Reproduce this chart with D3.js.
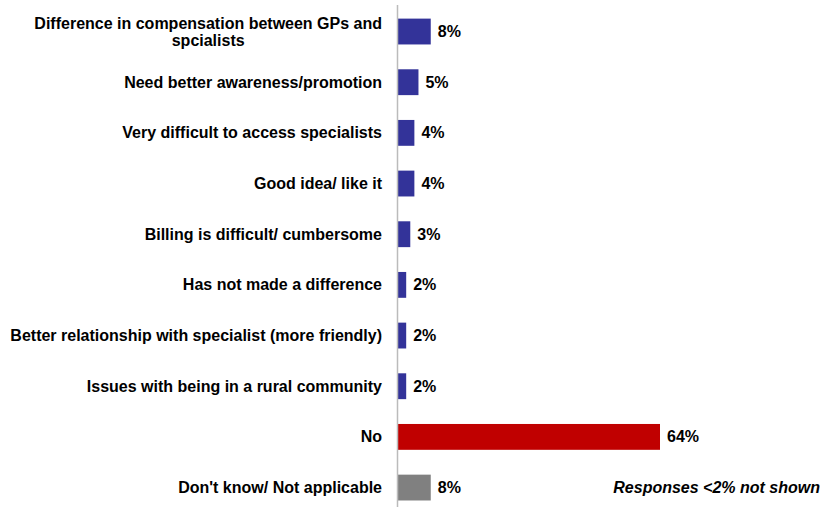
<!DOCTYPE html>
<html>
<head>
<meta charset="utf-8">
<script src="https://cdn.jsdelivr.net/npm/d3@7"></script>
<style>
  body { margin: 0; background: #fff; }
  svg { font-family: "Liberation Sans", Arial, sans-serif; }
</style>
</head>
<body>
<div id="vis"></div>
<script>
// Chart data
const categories = [
  ["Difference in compensation between GPs and", "spcialists"],
  ["Need better awareness/promotion"],
  ["Very difficult to access specialists"],
  ["Good idea/ like it"],
  ["Billing is difficult/ cumbersome"],
  ["Has not made a difference"],
  ["Better relationship with specialist (more friendly)"],
  ["Issues with being in a rural community"],
  ["No"],
  ["Don't know/ Not applicable"]
];
const values = [8, 5, 4, 4, 3, 2, 2, 2, 64, 8];
const barColors = ["#333399", "#333399", "#333399", "#333399", "#333399",
  "#333399", "#333399", "#333399", "#C00000", "#808080"];
const footnote = "Responses <2% not shown";

const svg = d3.select("#vis").append("svg")
  .attr("width", 828)
  .attr("height", 507);

const x0 = 398;
const xScale = d3.scaleLinear()
  .domain([0, 64])
  .range([x0, 660]);

const yScale = d3.scaleBand()
  .domain(d3.range(values.length))
  .range([6.2, 512.9])
  .paddingInner(0.49)
  .paddingOuter(0.245);

// Bars
svg.selectAll("rect.bar")
  .data(values)
  .join("rect")
  .attr("class", "bar")
  .attr("x", xScale(0))
  .attr("y", (d, i) => yScale(i))
  .attr("width", d => xScale(d) - xScale(0))
  .attr("height", yScale.bandwidth())
  .attr("fill", (d, i) => barColors[i]);

// Vertical axis line
svg.append("line")
  .attr("x1", x0 - 0.5)
  .attr("x2", x0 - 0.5)
  .attr("y1", 5)
  .attr("y2", 507)
  .attr("stroke", "#bbbbbb")
  .attr("stroke-width", 1.5);

// Category labels (multi-line labels are centred as a block, right edge at labelX)
const lineH = 17;
const labelX = 382;
svg.selectAll("text.cat")
  .data(categories)
  .join("text")
  .attr("class", "cat")
  .attr("font-size", "16px")
  .attr("font-weight", "bold")
  .attr("fill", "#000")
  .each(function (lines, i) {
    const t = d3.select(this);
    const cy = yScale(i) + yScale.bandwidth() / 2;
    const top = cy - (lines.length - 1) * lineH / 2;
    const spans = t.selectAll("tspan")
      .data(lines)
      .join("tspan")
      .attr("y", (l, j) => top + j * lineH)
      .attr("dy", "0.35em")
      .text(l => l);
    if (lines.length === 1) {
      t.attr("text-anchor", "end");
      spans.attr("x", labelX);
    } else {
      const maxW = d3.max(spans.nodes(), n => n.getComputedTextLength());
      t.attr("text-anchor", "middle");
      spans.attr("x", labelX - maxW / 2);
    }
  });

// Value labels
svg.selectAll("text.val")
  .data(values)
  .join("text")
  .attr("class", "val")
  .attr("x", d => xScale(d) + 7)
  .attr("y", (d, i) => yScale(i) + yScale.bandwidth() / 2)
  .attr("dy", "0.35em")
  .attr("font-size", "16px")
  .attr("font-weight", "bold")
  .text(d => d + "%");

// Footnote
svg.append("text")
  .attr("x", 820)
  .attr("y", yScale(values.length - 1) + yScale.bandwidth() / 2)
  .attr("dy", "0.35em")
  .attr("text-anchor", "end")
  .attr("font-size", "16px")
  .attr("font-weight", "bold")
  .attr("font-style", "italic")
  .text(footnote);
</script>
</body>
</html>
